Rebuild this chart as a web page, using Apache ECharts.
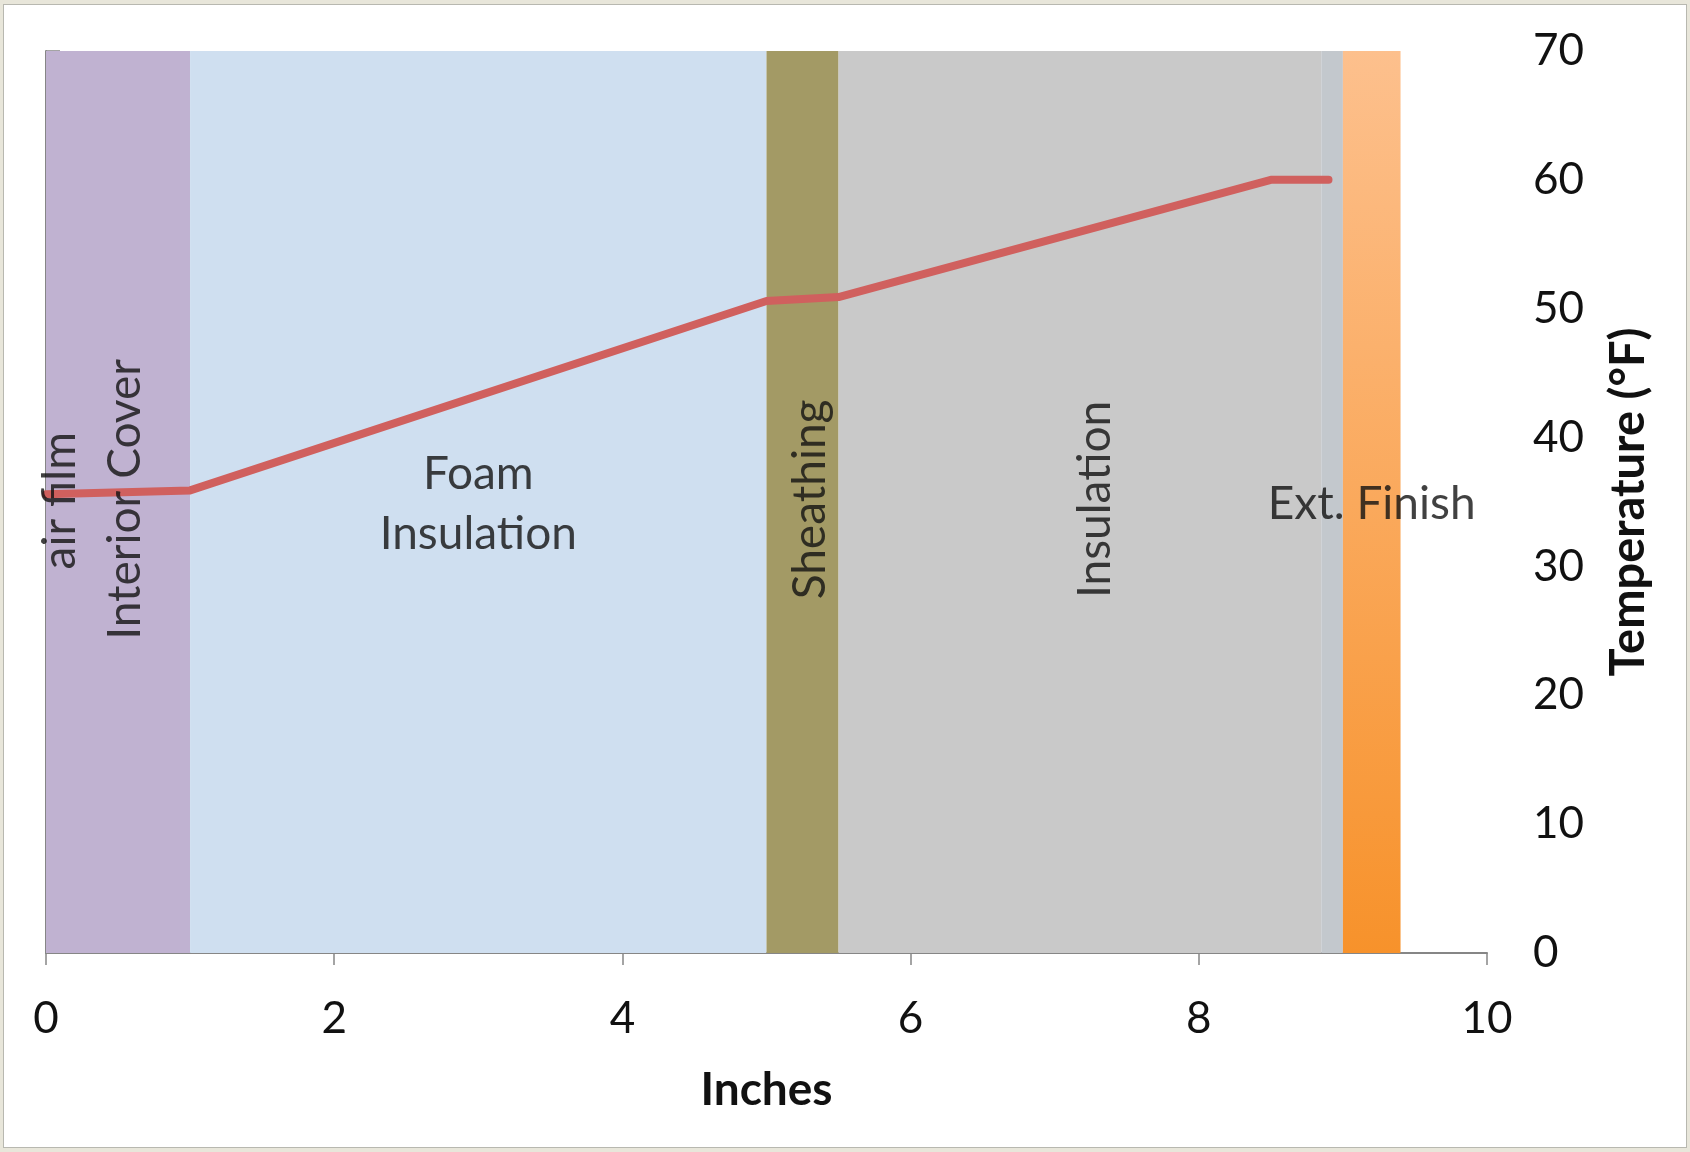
<!DOCTYPE html>
<html>
<head>
<meta charset="utf-8">
<script src="https://cdn.jsdelivr.net/npm/echarts@6/dist/echarts.min.js"></script>
<style>
  html, body { margin: 0; padding: 0; background: #e8e6da; }
  #frame { position: absolute; left: 3px; top: 4px; width: 1682px; height: 1142px; background: #fff; border: 1px solid #b8b8b0; }
  #chart { position: absolute; left: -4px; top: -5px; width: 1690px; height: 1152px; }
</style>
</head>
<body>
<div id="frame"><div id="chart"></div></div>
<script>
// ---- data ----
const layerNames  = ['Interior Cover', 'Foam Insulation', 'Sheathing', 'Insulation', 'Air gap', 'Ext. Finish'];
const layerStart  = [0.0, 1.0, 5.0, 5.5, 8.85, 9.0];
const layerEnd    = [1.0, 5.0, 5.5, 8.85, 9.0, 9.4];
const tempX       = [0.0, 1.0, 5.0, 5.5, 8.5, 8.9];
const tempF       = [35.6, 35.9, 50.6, 50.9, 60.0, 60.0];
const xTicks      = [0, 2, 4, 6, 8, 10];
const yTicks      = [0, 10, 20, 30, 40, 50, 60, 70];
// annotation texts and their anchor (data coords)
const annoText    = ['air film', 'Interior Cover', 'Foam\nInsulation', 'Sheathing', 'Insulation', 'Ext. Finish'];
const annoX       = [0.1, 0.55, 3.0, 5.3, 7.28, 9.2];
const annoY       = [35.1, 35.2, 34.8, 35.2, 35.2, 34.8];
const annoRotate  = [90, 90, 0, 90, 90, 0];

// ---- styles ----
const layerColors = [
  '#c0b2d1', '#cfdff0', '#a39a65', '#c9c9c9', '#c3c8cd',
  { type: 'linear', x: 0, y: 0, x2: 0, y2: 1, colorStops: [
    { offset: 0, color: '#fdc08d' }, { offset: 1, color: '#f7922b' } ] }
];
const FONT = 'Lato, "Open Sans", sans-serif';
const TXT = '#111111';

const chart = echarts.init(document.getElementById('chart'));
chart.setOption({
  animation: false,
  grid: { left: 46, right: 203, top: 51, bottom: 199, containLabel: false },
  xAxis: {
    type: 'value', min: xTicks[0], max: xTicks[xTicks.length - 1], interval: 2,
    name: 'Inches', nameLocation: 'middle', nameGap: 114,
    nameTextStyle: { fontFamily: FONT, fontSize: 46, fontWeight: 'bold', color: TXT },
    axisLine: { show: true, lineStyle: { color: '#868686', width: 2 } },
    axisTick: { show: true, length: 12, lineStyle: { color: '#868686', width: 1.5 } },
    axisLabel: { fontFamily: FONT, fontSize: 44, color: TXT, margin: 44 },
    splitLine: { show: false }
  },
  yAxis: {
    type: 'value', position: 'right', min: yTicks[0], max: yTicks[yTicks.length - 1], interval: 10,
    name: 'Temperature (°F)', nameLocation: 'middle', nameGap: 118, nameRotate: 90,
    nameTextStyle: { fontFamily: FONT, fontSize: 47, fontWeight: 'bold', color: TXT },
    axisLine: { show: true, lineStyle: { color: '#868686', width: 2 } },
    axisTick: { show: true, length: 14, lineStyle: { color: '#868686', width: 1.5 } },
    axisLabel: { fontFamily: FONT, fontSize: 44, color: TXT, margin: 46, align: 'left' },
    splitLine: { show: false }
  },
  series: [
    {
      type: 'custom', z: 1,
      data: layerNames.map((n, i) => [layerStart[i], layerEnd[i], i]),
      renderItem: function (params, api) {
        const i = api.value(2);
        const p0 = api.coord([api.value(0), 70]);
        const p1 = api.coord([api.value(1), 0]);
        return { type: 'rect', shape: { x: p0[0], y: p0[1], width: p1[0] - p0[0], height: p1[1] - p0[1] },
                 style: { fill: layerColors[i] } };
      },
      silent: true
    },
    {
      type: 'line', z: 3,
      data: tempX.map((x, i) => [x, tempF[i]]),
      showSymbol: false,
      lineStyle: { color: '#d0605e', width: 8, cap: 'round', join: 'round' }
    },
    {
      type: 'scatter', z: 4, symbolSize: 0, silent: true,
      data: annoText.map((t, i) => ({
        value: [annoX[i], annoY[i]],
        label: {
          show: true, formatter: t, position: 'inside', rotate: annoRotate[i],
          fontFamily: FONT, fontSize: 46, color: TXT, lineHeight: 60,
          align: 'center', verticalAlign: 'middle'
        }
      }))
    }
  ]
});
</script>
</body>
</html>
